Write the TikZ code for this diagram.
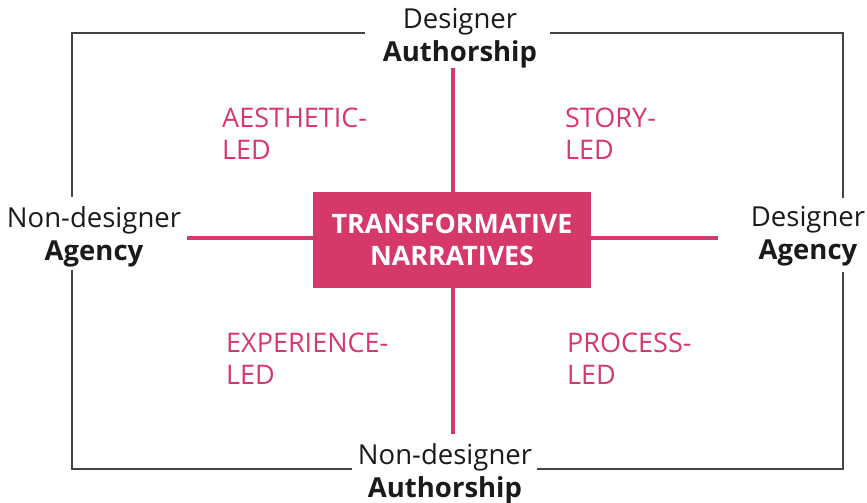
\documentclass[tikz,border=0pt]{standalone}
\usepackage{fontspec}
\setmainfont{Open Sans}
\usetikzlibrary{positioning}
\definecolor{narrpink}{HTML}{D6386A}
\definecolor{labelgray}{HTML}{1A1A1A}
\definecolor{framegray}{HTML}{444444}
\tikzstyle{axislabel} = [align=center, text=labelgray, anchor=north, inner sep=0pt, font=\fontsize{27.5}{33}\selectfont]
\tikzstyle{quadlabel} = [align=left, text=narrpink, anchor=north west, inner sep=0pt, font=\fontsize{27}{32}\selectfont]
\tikzstyle{centrebox} = [fill=narrpink, text=white, align=center, inner sep=0pt, minimum width=278pt, minimum height=96pt, font=\bfseries\fontsize{26.8}{32}\selectfont]
\tikzstyle{axis} = [draw=narrpink, line width=4pt]
\tikzstyle{frame} = [draw=framegray, line width=1.5pt]

\begin{document}
\begin{tikzpicture}[x=1pt, y=-1pt]
                        \useasboundingbox (0,0) rectangle (867,503);
                        % centre box
                        \node[centrebox](C) at (452,240) {TRANSFORMATIVE\\NARRATIVES};

                        % axis labels
                        \node[axislabel](T) at (460,8) {Designer\\\textbf{Authorship}};
                        \node[axislabel](B) at (445,443) {Non-designer\\\textbf{Authorship}};
                        \node[axislabel](L) at (94,206) {Non-designer\\\textbf{Agency}};
                        \node[axislabel](R) at (808,206) {Designer\\\textbf{Agency}};

                        % quadrants
                        \node[quadlabel](Q1) at (222,108) {AESTHETIC-\\LED};
                        \node[quadlabel](Q2) at (565,108) {STORY-\\LED};
                        \node[quadlabel](Q3) at (226,333) {EXPERIENCE-\\LED};
                        \node[quadlabel](Q4) at (567,333) {PROCESS-\\LED};

                        % ends of the cross
                        \coordinate (A1) at (453,68);
                        \coordinate (A2) at (453,434);
                        \coordinate (A3) at (187,238);
                        \coordinate (A4) at (718,238);

                        \draw[axis] (A1) -- (A1 |- C.north);
                        \draw[axis] (A2 |- C.south) -- (A2);
                        \draw[axis] (A3) -- (A3 -| C.west);
                        \draw[axis] (A4 -| C.east) -- (A4);

                        % outer frame, broken at the labels
                        \coordinate (TL) at (72,33);
                        \coordinate (TR) at (843,33);
                        \coordinate (BL) at (72,469);
                        \coordinate (BR) at (843,469);
                        \coordinate (T1) at (365,33);
                        \coordinate (T2) at (550,33);
                        \coordinate (B1) at (352,469);
                        \coordinate (B2) at (537,469);
                        \coordinate (L1) at (72,197);
                        \coordinate (L2) at (72,270);
                        \coordinate (R1) at (843,198);
                        \coordinate (R2) at (843,272);

                        \draw[frame] (T1) -- (TL) -- (L1);
                        \draw[frame] (L2) -- (BL) -- (B1);
                        \draw[frame] (B2) -- (BR) -- (R2);
                        \draw[frame] (R1) -- (TR) -- (T2);
                    \end{tikzpicture}
\end{document}
